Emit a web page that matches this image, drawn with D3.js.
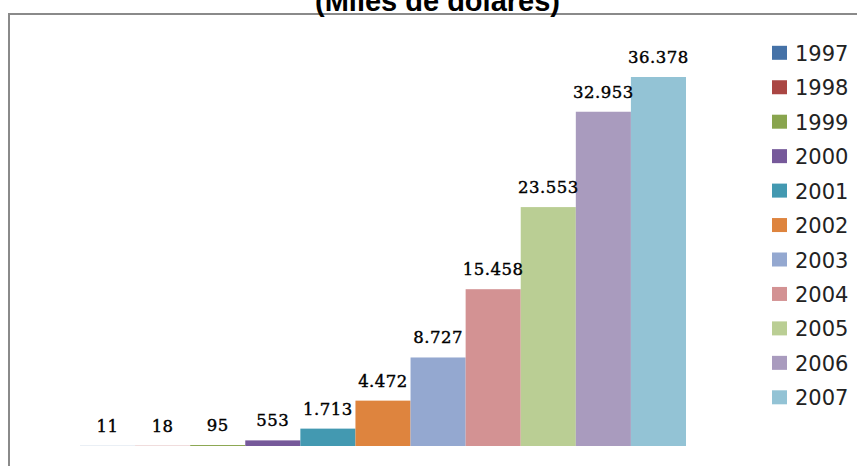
<!DOCTYPE html>
<html>
<head>
<meta charset="utf-8">
<script src="https://cdn.jsdelivr.net/npm/d3@7"></script>
<style>
  html, body { margin: 0; padding: 0; background: #fff; }
  svg { display: block; }
</style>
</head>
<body>
<svg id="chart" width="857" height="466"></svg>
<script>
// Series (one bar per year) and their values in thousands of dollars
const years = ["1997", "1998", "1999", "2000", "2001", "2002", "2003", "2004", "2005", "2006", "2007"];
const values = [11, 18, 95, 553, 1713, 4472, 8727, 15458, 23553, 32953, 36378];
const colors = ["#4572A7", "#AA4643", "#89A54E", "#76599A", "#4399B1", "#DE843E",
                "#94A8D0", "#D39293", "#BACE94", "#A99BBE", "#93C3D5"];
const title = "(Miles de dólares)";

const svg = d3.select("#chart");
const W = 857, H = 466;

// Spanish number format: dot as thousands separator
const fmt = d3.formatLocale({ decimal: ",", thousands: ".", grouping: [3], currency: ["$", ""] }).format(",d");

// Frame around the chart area (top and left edges visible)
svg.append("path")
  .attr("d", `M9,${H} V14 H${W}`)
  .attr("fill", "none")
  .attr("stroke", "#8a8a8a")
  .attr("stroke-width", 2);

// Title, partly above the frame
svg.append("text")
  .attr("x", 437.5)
  .attr("y", 11)
  .attr("text-anchor", "middle")
  .attr("font-family", "Liberation Sans, Arial, sans-serif")
  .attr("font-weight", "bold")
  .attr("font-size", 29)
  .attr("fill", "#000")
  .text(title);

// Scales: the bars sit side by side in one cluster
const x = d3.scaleBand().domain(years).range([80, 686]).paddingInner(0).paddingOuter(0);
const baseY = 446;
const yMax = 40000;
const y = d3.scaleLinear().domain([0, yMax]).range([baseY, baseY - yMax * 369 / 36378]);

const data = years.map((yr, i) => ({ year: yr, value: values[i], color: colors[i] }));

svg.append("g").selectAll("rect")
  .data(data)
  .join("rect")
  .attr("x", d => x(d.year))
  .attr("y", d => y(d.value))
  .attr("width", x.bandwidth())
  .attr("height", d => y(0) - y(d.value))
  .attr("fill", d => d.color);

// Value labels above each bar
svg.append("g").selectAll("text")
  .data(data)
  .join("text")
  .attr("x", d => x(d.year) + x.bandwidth() / 2)
  .attr("y", d => y(d.value) - 14)
  .attr("text-anchor", "middle")
  .attr("font-family", "DejaVu Serif, serif")
  .attr("font-size", 16.5)
  .attr("letter-spacing", 0.5)
  .attr("fill", "#000")
  .attr("stroke", "#000")
  .attr("stroke-width", 0.4)
  .text(d => fmt(d.value));

// Legend on the right
const legend = svg.append("g");
const legStart = 52.8, legStep = 34.45;
const items = legend.selectAll("g")
  .data(data)
  .join("g")
  .attr("transform", (d, i) => `translate(772,${legStart + i * legStep})`);

items.append("rect")
  .attr("x", 0)
  .attr("y", -7)
  .attr("width", 15)
  .attr("height", 14)
  .attr("fill", d => d.color);

items.append("text")
  .attr("x", 23)
  .attr("y", 8)
  .attr("font-family", "DejaVu Sans, sans-serif")
  .attr("font-size", 21)
  .attr("fill", "#222")
  .text(d => d.year);
</script>
</body>
</html>
